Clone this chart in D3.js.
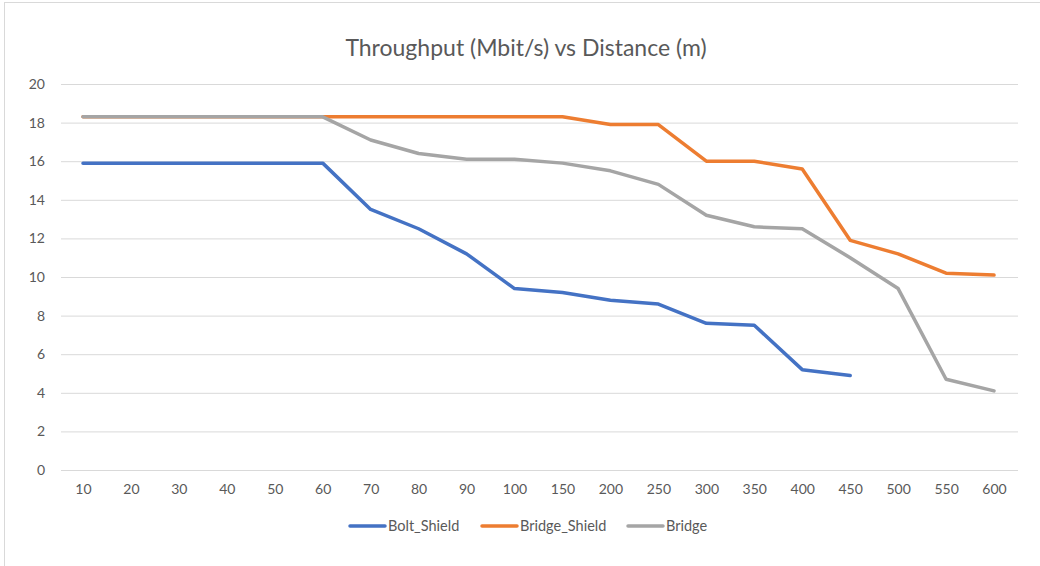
<!DOCTYPE html>
<html>
<head>
<meta charset="utf-8">
<script src="https://cdn.jsdelivr.net/npm/d3@7"></script>
<style>
  html, body { margin: 0; padding: 0; background: #fff; }
  svg { display: block; }
  text { font-family: Lato, "Open Sans", sans-serif; fill: #595959; }
</style>
</head>
<body>
<svg id="chart" width="1040" height="566"></svg>
<script>
// Distance categories (m)
const distances = ["10", "20", "30", "40", "50", "60", "70", "80", "90", "100",
                   "150", "200", "250", "300", "350", "400", "450", "500", "550", "600"];

// Throughput (Mbit/s) per distance
const boltShield   = [15.9, 15.9, 15.9, 15.9, 15.9, 15.9, 13.5, 12.5, 11.2, 9.4,
                      9.2, 8.8, 8.6, 7.6, 7.5, 5.2, 4.9, null, null, null];
const bridgeShield = [18.3, 18.3, 18.3, 18.3, 18.3, 18.3, 18.3, 18.3, 18.3, 18.3,
                      18.3, 17.9, 17.9, 16.0, 16.0, 15.6, 11.9, 11.2, 10.2, 10.1];
const bridge       = [18.3, 18.3, 18.3, 18.3, 18.3, 18.3, 17.1, 16.4, 16.1, 16.1,
                      15.9, 15.5, 14.8, 13.2, 12.6, 12.5, 11.0, 9.4, 4.7, 4.1];

const yTicks = [0, 2, 4, 6, 8, 10, 12, 14, 16, 18, 20];

const seriesNames  = ["Bolt_Shield", "Bridge_Shield", "Bridge"];
const seriesColors = ["#4472C4", "#ED7D31", "#A5A5A5"];
const seriesValues = [boltShield, bridgeShield, bridge];

const title = "Throughput (Mbit/s) vs Distance (m)";

const svg = d3.select("#chart");

// outer chart frame
svg.append("rect")
  .attr("x", 4.5).attr("y", 2.5)
  .attr("width", 1200).attr("height", 700)
  .attr("fill", "none")
  .attr("stroke", "#D9D9D9")
  .attr("stroke-width", 1);

const plot = { left: 59, right: 1018, top: 84, bottom: 470 };

const x = d3.scalePoint()
  .domain(distances)
  .range([plot.left, plot.right])
  .padding(0.5);

const y = d3.scaleLinear()
  .domain([0, 20])
  .range([plot.bottom, plot.top]);

// title
svg.append("text")
  .attr("x", 526)
  .attr("y", 56)
  .attr("text-anchor", "middle")
  .style("font-size", "23px")
  .text(title);

// horizontal gridlines + y labels
const yAxis = d3.axisLeft(y)
  .tickValues(yTicks)
  .tickSize(-(plot.right - plot.left - 2))
  .tickPadding(16)
  .tickFormat(d3.format("d"));

const gy = svg.append("g")
  .attr("transform", `translate(${plot.left + 2},0)`)
  .call(yAxis);
gy.select(".domain").remove();
gy.selectAll(".tick line").attr("stroke", "#D9D9D9").attr("stroke-width", 1);
gy.selectAll(".tick text")
  .style("font-size", "14px")
  .attr("fill", "#595959");

// x labels
const xAxis = d3.axisBottom(x).tickSize(0).tickPadding(14);
const gx = svg.append("g")
  .attr("transform", `translate(0,${plot.bottom})`)
  .call(xAxis);
gx.select(".domain").remove();
gx.selectAll(".tick text")
  .style("font-size", "14px")
  .attr("fill", "#595959");

// series lines
const line = d3.line()
  .defined(d => d.v != null)
  .x(d => x(d.k))
  .y(d => y(d.v));

seriesValues.forEach((vals, i) => {
  const pts = distances.map((k, j) => ({ k, v: vals[j] }));
  svg.append("path")
    .datum(pts)
    .attr("d", line)
    .attr("fill", "none")
    .attr("stroke", seriesColors[i])
    .attr("stroke-width", 3.5)
    .attr("stroke-linejoin", "round")
    .attr("stroke-linecap", "round");
});

// legend
const legendX = [350, 482, 628];
const legendY = 526;
const lg = svg.append("g");
seriesNames.forEach((name, i) => {
  lg.append("line")
    .attr("x1", legendX[i]).attr("x2", legendX[i] + 35)
    .attr("y1", legendY).attr("y2", legendY)
    .attr("stroke", seriesColors[i])
    .attr("stroke-width", 3.5)
    .attr("stroke-linecap", "round");
  lg.append("text")
    .attr("x", legendX[i] + 38)
    .attr("y", legendY)
    .attr("dy", "0.35em")
    .style("font-size", "14.5px")
    .text(name);
});
</script>
</body>
</html>
